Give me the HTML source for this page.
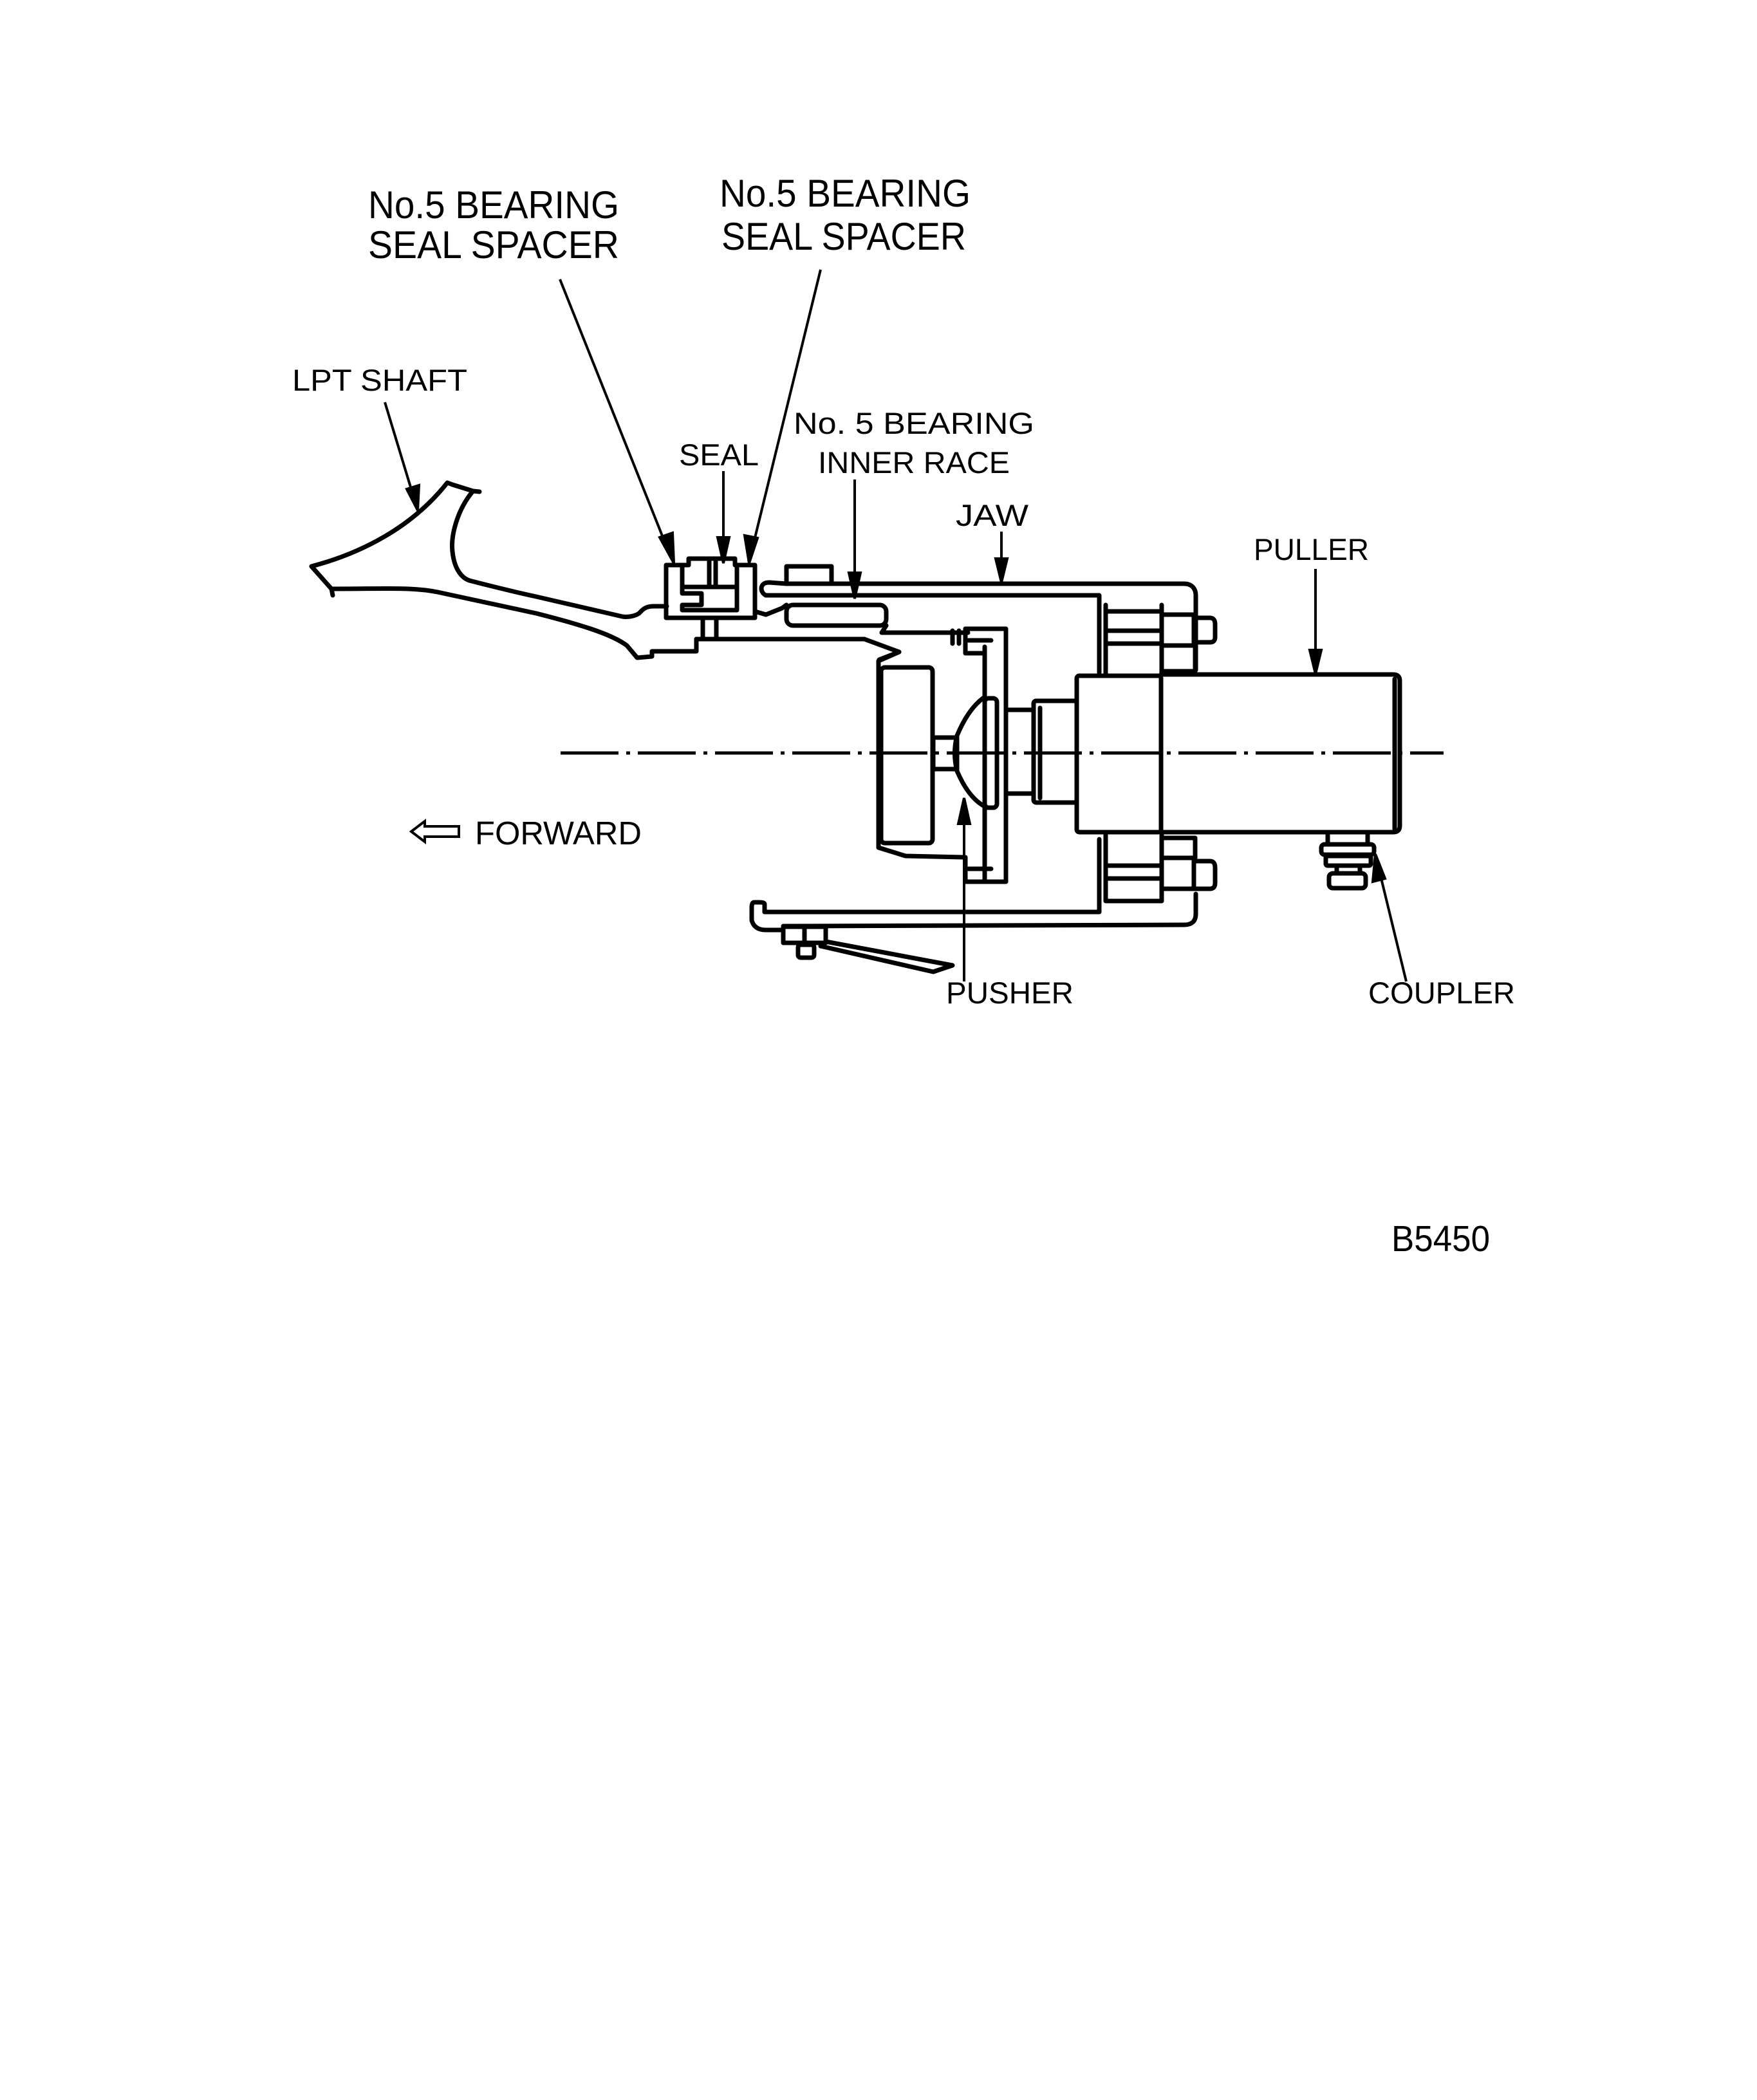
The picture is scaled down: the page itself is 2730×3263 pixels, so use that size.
<!DOCTYPE html>
<html><head><meta charset="utf-8"><style>
html,body{margin:0;padding:0;background:#fff;}
svg{display:block;}
text{font-family:"Liberation Sans",sans-serif;fill:#000;}
</style></head><body>
<svg width="2730" height="3263" viewBox="0 0 2730 3263" xmlns="http://www.w3.org/2000/svg">
<g fill="none" stroke="#000" stroke-width="7" stroke-linejoin="round" stroke-linecap="round">
<!-- LPT shaft -->
<path d="M484,880 C560,860 640,820 695,750 L703,753 L735,763 L745,764"/>
<path d="M735,763 C712,790 700,830 703,857 C706,885 718,900 733,903 C780,915 800,920 833,927 L967,958 C980,960 990,955 993,953 C1000,945 1005,942 1016,942 L1036,942"/>
<path d="M484,880 L515,915 L517,925"/>
<path d="M515,915 C600,915 640,912 680,920 L833,953 C900,970 950,985 974,1003 L990,1022 L1013,1020 L1013,1012 L1082,1012 L1082,993"/>
<!-- seal block -->
<path d="M1035,878 L1035,960 L1173,960 L1173,878 L1142,878 L1142,868 L1070,868 L1070,878 Z"/>
<path d="M1102,873 L1102,910 M1112,873 L1112,910"/>
<path d="M1060,880 L1060,912 M1060,912 L1145,912 L1145,880"/>
<path d="M1060,912 L1060,922 L1090,922 L1090,940 L1060,940 L1060,948 L1145,948 L1145,912"/>
<path d="M1092,960 L1092,993 M1113,960 L1113,993"/>
<!-- shaft line -->
<path d="M1082,993 L1343,993 L1397,1013 L1366,1025"/>
<path d="M1173,950 L1190,955 L1215,945 L1222,940"/>
<!-- jaw upper -->
<path d="M1190,925 L1708,925 L1708,1045"/>
<path d="M1190,925 C1180,920 1180,905 1195,905 L1222,907 L1840,907 C1852,907 1858,915 1858,925 L1858,1041"/>
<rect x="1222" y="880" width="70" height="27"/>
<rect x="1222" y="940" width="155" height="32" rx="10"/>
<path d="M1370,983 L1504,983 M1377,972 L1370,983"/>
<path d="M1490,980 L1490,1000 M1480,980 L1480,1000"/>
<!-- plate -->
<path d="M1500,977 L1563,977 L1563,1370 L1500,1370"/>
<path d="M1530,1005 L1530,1083 M1530,1253 L1530,1370"/>
<path d="M1500,977 L1500,1015 L1530,1015 M1500,1332 L1500,1370"/>
<path d="M1505,995 L1540,995 M1505,1350 L1540,1350"/>
<!-- pusher body -->
<path d="M1365,1027 L1388,1017 L1397,1013 M1365,1027 L1365,1317 L1407,1330 L1497,1332"/>
<rect x="1369" y="1037" width="80" height="273" rx="6"/>
<rect x="1450" y="1146" width="37" height="49"/>
<path d="M1487,1143 Q1505,1100 1530,1083 M1487,1198 Q1505,1240 1530,1253"/>
<path d="M1487,1143 Q1480,1170 1487,1198"/>
<rect x="1530" y="1085" width="19" height="170" rx="6"/>
<rect x="1563" y="1103" width="43" height="130"/>
<rect x="1606" y="1089" width="67" height="158" rx="4"/>
<path d="M1616,1100 L1616,1240"/>
<rect x="1673" y="1050" width="131" height="243" rx="4"/>
<path d="M1804,1048 L2165,1048 Q2175,1048 2175,1058 L2175,1283 Q2175,1293 2165,1293 L1804,1293"/>
<path d="M2167,1055 L2167,1288"/>
<!-- bolts upper -->
<path d="M1718,940 L1718,1047 M1805,940 L1805,1047 M1718,950 L1805,950"/>
<path d="M1718,980 L1805,980 M1718,1000 L1805,1000"/>
<rect x="1805" y="955" width="50" height="48"/>
<path d="M1855,960 L1880,960 Q1888,960 1888,970 L1888,990 Q1888,998 1880,998 L1855,998"/>
<rect x="1805" y="1003" width="52" height="40"/>
<!-- bolts lower -->
<path d="M1708,1304 L1708,1414 M1718,1297 L1718,1400 M1805,1297 L1805,1400 M1718,1400 L1805,1400"/>
<path d="M1718,1345 L1805,1345 M1718,1365 L1805,1365"/>
<rect x="1805" y="1302" width="52" height="31"/>
<rect x="1805" y="1333" width="50" height="48"/>
<path d="M1855,1338 L1880,1338 Q1888,1338 1888,1348 L1888,1372 Q1888,1381 1880,1381 L1855,1381"/>
<!-- jaw lower -->
<path d="M1858,1389 L1858,1420 Q1858,1437 1840,1437 L1217,1439"/>
<path d="M1188,1417 L1708,1417 L1708,1414"/>
<path d="M1188,1417 L1188,1405 Q1188,1402 1180,1402 L1172,1402 Q1168,1402 1168,1410 L1168,1430 Q1172,1445 1190,1445 L1217,1445"/>
<rect x="1217" y="1440" width="66" height="25"/>
<path d="M1250,1440 L1250,1465"/>
<rect x="1240" y="1468" width="25" height="20" rx="4"/>
<path d="M1283,1463 L1480,1500 M1275,1470 L1450,1510 L1480,1500"/>
<!-- coupler -->
<path d="M2063,1293 L2063,1310 M2125,1293 L2125,1310"/>
<rect x="2053" y="1312" width="82" height="16" rx="5"/>
<rect x="2060" y="1330" width="70" height="15" rx="3"/>
<path d="M2077,1345 L2077,1357 M2113,1345 L2113,1357"/>
<rect x="2065" y="1357" width="57" height="23" rx="6"/>
</g>
<!-- centerline -->
<line x1="871" y1="1170" x2="2243" y2="1170" stroke="#000" stroke-width="5" stroke-dasharray="90,12,6,12"/>
<!-- leader arrows -->
<g stroke="#000" stroke-width="4" fill="#000">
<line x1="870" y1="434" x2="1040" y2="860"/><polygon points="1047,875 1025,835 1045,828"/>
<line x1="1275" y1="419" x2="1167" y2="860"/><polygon points="1164,875 1157,832 1177,836"/>
<line x1="1124" y1="732" x2="1124" y2="860"/><polygon points="1124,875 1115,835 1133,835"/>
<line x1="598" y1="625" x2="645" y2="780"/><polygon points="649,793 632,760 651,754"/>
<line x1="1328" y1="745" x2="1328" y2="915"/><polygon points="1328,930 1319,890 1337,890"/>
<line x1="1556" y1="826" x2="1556" y2="895"/><polygon points="1556,905 1547,868 1565,868"/>
<line x1="2044" y1="884" x2="2044" y2="1035"/><polygon points="2044,1047 2035,1010 2053,1010"/>
<line x1="1498" y1="1525" x2="1498" y2="1255"/><polygon points="1498,1240 1489,1280 1507,1280"/>
<line x1="2185" y1="1525" x2="2140" y2="1340"/><polygon points="2137,1327 2133,1370 2152,1365"/>
</g>
<!-- forward arrow -->
<path d="M639,1292 L660,1276 L660,1284 L713,1284 L713,1300 L660,1300 L660,1308 Z" fill="none" stroke="#000" stroke-width="4"/>
<!-- labels -->
<text x="572" y="339" font-size="60" textLength="390" lengthAdjust="spacingAndGlyphs">No.5 BEARING</text>
<text x="572" y="401" font-size="60" textLength="390" lengthAdjust="spacingAndGlyphs">SEAL SPACER</text>
<text x="1118" y="321" font-size="60" textLength="390" lengthAdjust="spacingAndGlyphs">No.5 BEARING</text>
<text x="1121" y="388" font-size="60" textLength="380" lengthAdjust="spacingAndGlyphs">SEAL SPACER</text>
<text x="454" y="607" font-size="47" textLength="272" lengthAdjust="spacingAndGlyphs">LPT SHAFT</text>
<text x="1055" y="723" font-size="47" textLength="124" lengthAdjust="spacingAndGlyphs">SEAL</text>
<text x="1233" y="674" font-size="47" textLength="374" lengthAdjust="spacingAndGlyphs">No. 5 BEARING</text>
<text x="1271" y="735" font-size="47" textLength="298" lengthAdjust="spacingAndGlyphs">INNER RACE</text>
<text x="1485" y="817" font-size="47" textLength="113" lengthAdjust="spacingAndGlyphs">JAW</text>
<text x="1948" y="870" font-size="47" textLength="179" lengthAdjust="spacingAndGlyphs">PULLER</text>
<text x="738" y="1312" font-size="51" textLength="259" lengthAdjust="spacingAndGlyphs">FORWARD</text>
<text x="1470" y="1559" font-size="47" textLength="198" lengthAdjust="spacingAndGlyphs">PUSHER</text>
<text x="2126" y="1559" font-size="47" textLength="228" lengthAdjust="spacingAndGlyphs">COUPLER</text>
<text x="2162" y="1944" font-size="57" textLength="153" lengthAdjust="spacingAndGlyphs">B5450</text>
</svg>
</body></html>
